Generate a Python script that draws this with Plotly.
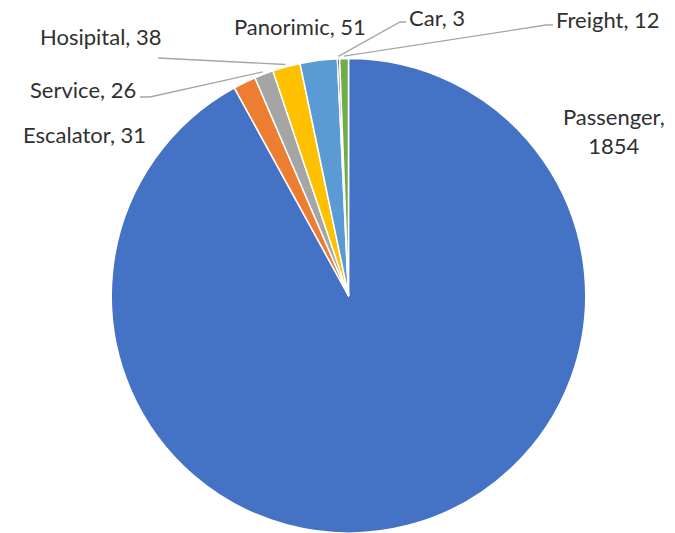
import math
import plotly.graph_objects as go

# ---- data ----
categories = ["Passenger", "Escalator", "Service", "Hosipital", "Panorimic", "Car", "Freight"]
values = [1854, 31, 26, 38, 51, 3, 12]
colors = ["#4472C4", "#ED7D31", "#A5A5A5", "#FFC000", "#5B9BD5", "#264478", "#70AD47"]

# ---- layout constants (screen pixels) ----
W, H = 675, 533
OFF = 0
CX, CY, R = 348.5, 296.5, 238.0


def px(x, y):
    """screen pixel -> paper coords"""
    return (x - OFF) / W, 1 - (y - OFF) / H


dom_x = [(CX - R - OFF) / W, (CX + R - OFF) / W]
dom_y = [max(0.0, 1 - (CY + R - OFF) / H), 1 - (CY - R - OFF) / H]

fig = go.Figure(go.Pie(
    labels=categories,
    values=values,
    sort=False,
    direction="clockwise",
    rotation=0,
    marker=dict(colors=colors, line=dict(color="white", width=1.5)),
    textinfo="none",
    hoverinfo="label+value",
    domain=dict(x=dom_x, y=dom_y),
    showlegend=False,
))

# slice mid-angles from the data (clockwise from 12 o'clock)
total = sum(values)
mid = {}
acc = 0.0
for c, v in zip(categories, values):
    a0 = acc / total * 360
    acc += v
    a1 = acc / total * 360
    mid[c] = (a0 + a1) / 2


def edge_point(cat, k=1.01):
    a = math.radians(mid[cat])
    return CX + R * k * math.sin(a), CY - R * k * math.cos(a)


font = dict(family="Lato, Calibri, sans-serif", size=22, color="#303030")

# labels: (text, center x px, center y px)
label_pos = {
    "Passenger": ("Passenger,<br>1854", 614, 131),
    "Escalator": ("Escalator, 31", 85, 134),
    "Service": ("Service, 26", 83, 89),
    "Hosipital": ("Hosipital, 38", 101, 36),
    "Panorimic": ("Panorimic, 51", 300, 26),
    "Car": ("Car, 3", 437, 18),
    "Freight": ("Freight, 12", 608, 20),
}
for cat in categories:
    t, x, y = label_pos[cat]
    xp, yp = px(x, y)
    fig.add_annotation(x=xp, y=yp, xref="paper", yref="paper", text=t,
                       showarrow=False, font=font, xanchor="center",
                       yanchor="middle", align="center", borderpad=0)

# leader lines: start points near labels (px), ending at the slice edge
leaders = {
    "Hosipital": [(158, 58)],
    "Service": [(140, 97), (150, 97)],
    "Car": [(406, 22), (400, 22)],
    "Freight": [(553, 25), (546, 25)],
}
for cat, pts in leaders.items():
    ex, ey = edge_point(cat)
    allpts = pts + [(ex, ey)]
    path = ""
    for i, (x, y) in enumerate(allpts):
        xp, yp = px(x, y)
        path += ("M" if i == 0 else "L") + f"{xp:.5f},{yp:.5f} "
    fig.add_shape(type="path", path=path.strip(), xref="paper", yref="paper",
                  line=dict(color="#A6A6A6", width=1.3))

fig.update_layout(
    width=W, height=H,
    margin=dict(l=0, r=0, t=0, b=0),
    paper_bgcolor="white",
    plot_bgcolor="white",
)

fig.write_html("out.html",
               config={"displayModeBar": False},
               post_script="document.body.style.margin='0';document.body.style.overflow='hidden';")
